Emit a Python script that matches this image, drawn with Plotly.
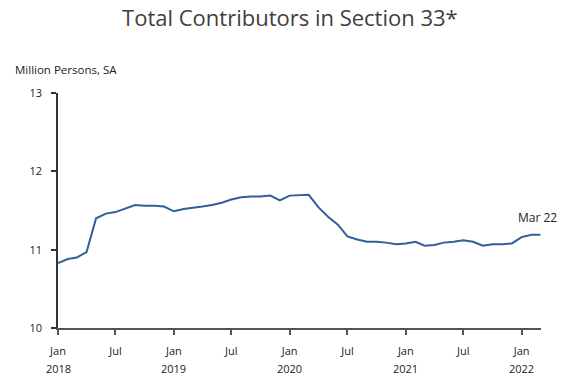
import pandas as pd
import plotly.graph_objects as go

# Monthly total contributors, Section 33 (million persons, seasonally adjusted)
months = pd.date_range("2018-01-01", "2022-03-01", freq="MS")
contributors = [
    10.83, 10.88, 10.90, 10.97, 11.40, 11.46, 11.48, 11.52, 11.57, 11.56, 11.56, 11.55,  # 2018
    11.49, 11.52, 11.53, 11.55, 11.57, 11.60, 11.64, 11.67, 11.68, 11.68, 11.69, 11.63,  # 2019
    11.69, 11.70, 11.70, 11.54, 11.42, 11.32, 11.17, 11.13, 11.10, 11.10, 11.09, 11.07,  # 2020
    11.08, 11.10, 11.05, 11.06, 11.09, 11.10, 11.12, 11.10, 11.05, 11.07, 11.07, 11.08,  # 2021
    11.16, 11.19, 11.19,                                                                # 2022
]

tick_dates = pd.date_range("2018-01-01", "2022-01-01", freq="6MS")
tick_months = ["Jan", "Jul", "Jan", "Jul", "Jan", "Jul", "Jan", "Jul", "Jan"]
year_dates = pd.date_range("2018-01-01", "2022-01-01", freq="YS")
year_labels = ["2018", "2019", "2020", "2021", "2022"]
y_ticks = [10, 11, 12, 13]

FONT = "Open Sans"
TEXT = "#222222"

fig = go.Figure()
fig.add_trace(go.Scatter(
    x=months, y=contributors, mode="lines",
    line=dict(color="#315f99", width=2),
    hoverinfo="skip", showlegend=False,
))

annotations = [
    dict(text="Million Persons, SA", xref="paper", yref="paper", x=-0.094, y=1.06,
         xanchor="left", yanchor="bottom", showarrow=False,
         font=dict(family=FONT, size=11.5, color=TEXT)),
    dict(text="Mar 22", x=months[-1], y=contributors[-1], xref="x", yref="y",
         xanchor="center", yanchor="bottom", yshift=7, xshift=-3, showarrow=False,
         font=dict(family=FONT, size=12, color=TEXT)),
]
for d, lab in zip(year_dates, year_labels):
    annotations.append(dict(text=lab, x=d, xref="x", y=0, yref="paper", yshift=-40,
                            xanchor="center", yanchor="middle", showarrow=False,
                            font=dict(family=FONT, size=11, color=TEXT)))

fig.update_layout(
    width=564, height=376,
    margin=dict(l=58, r=23, t=93, b=48),
    paper_bgcolor="white", plot_bgcolor="white",
    title=dict(text="Total Contributors in Section 33*", x=0.514, xanchor="center",
               y=0.952, yanchor="middle",
               font=dict(family=FONT, size=22, color="#404040")),
    xaxis=dict(
        type="date", range=[months[0], pd.Timestamp("2022-03-03")],
        tickvals=tick_dates, ticktext=tick_months,
        showgrid=False, zeroline=False,
        showline=True, linecolor="#555555", linewidth=1.5,
        ticks="outside", ticklen=5, tickcolor="#555555", tickwidth=1.5,
        ticklabelstandoff=7,
        tickfont=dict(family=FONT, size=11, color=TEXT),
    ),
    yaxis=dict(
        range=[10, 13], tickvals=y_ticks,
        showgrid=False, zeroline=False,
        showline=True, linecolor="#333333", linewidth=1.5,
        ticks="outside", ticklen=5, tickcolor="#333333", tickwidth=1.5,
        ticklabelstandoff=7,
        tickfont=dict(family=FONT, size=11, color=TEXT),
    ),
    annotations=annotations,
)

fig.write_html("out.html")
